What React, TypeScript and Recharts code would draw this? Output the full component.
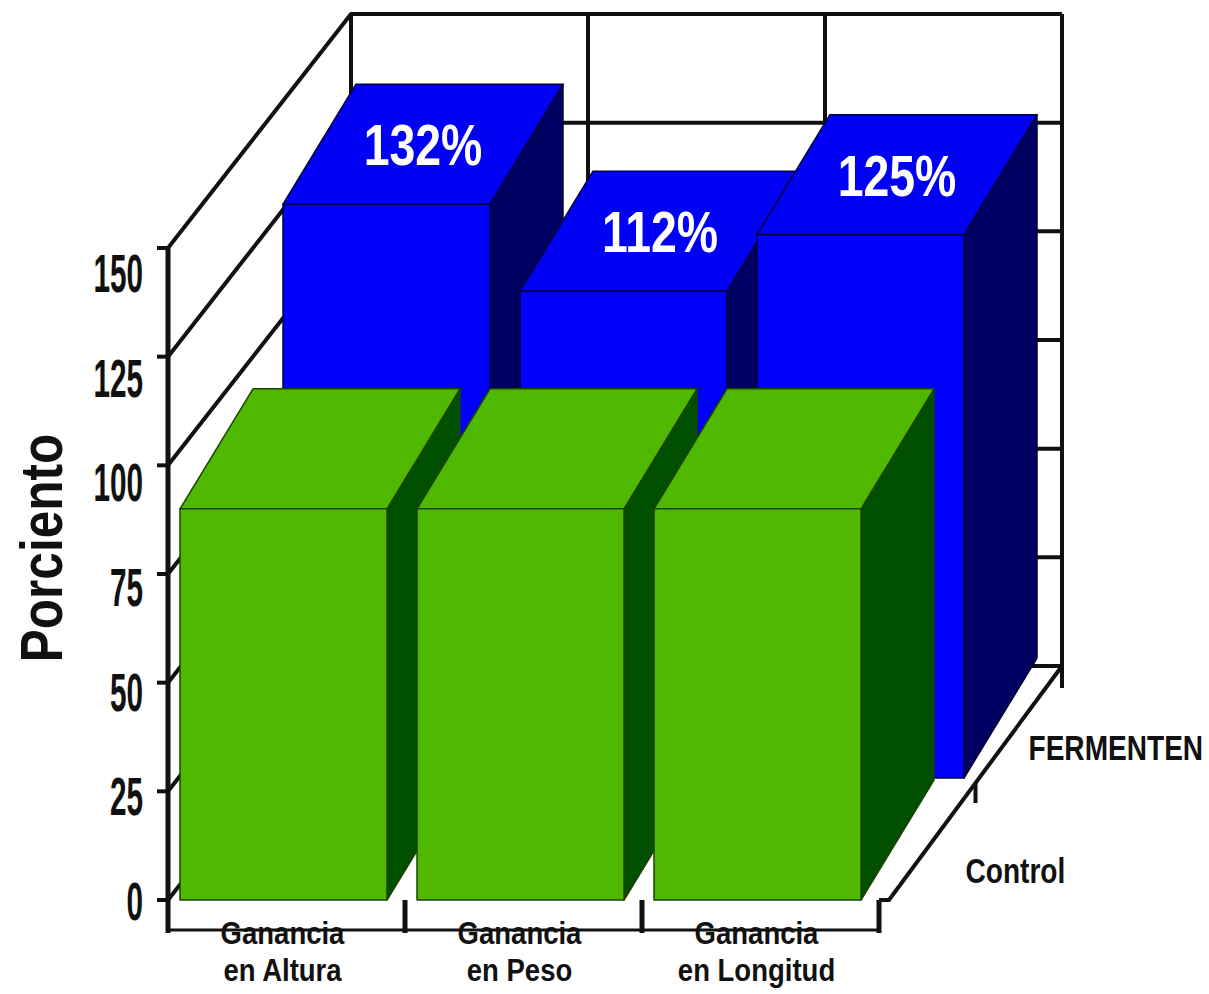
import React from "react";
import { Bar, BarChart, CartesianGrid, XAxis, YAxis } from "recharts";

const CATEGORIES = ["Ganancia en Altura", "Ganancia en Peso", "Ganancia en Longitud"];
const CONTROL = [90, 90, 90];
const FERMENTEN = [132, 112, 125];
const SERIES = ["Control", "FERMENTEN"];
const Y_TICKS = [0, 25, 50, 75, 100, 125, 150];

const data = CATEGORIES.map((cat, i) => ({ cat, control: CONTROL[i], fermenten: FERMENTEN[i] }));

// frame geometry of the oblique 3D box (front plane = plot area)
const W = 1209;
const H = 994;
const PLOT_L = 168;
const PLOT_R = 879;
const PLOT_T = 248;
const PLOT_B = 900;
const BAND = (PLOT_R - PLOT_L) / CATEGORIES.length;
const DEPTH = { x: 183, y: -234 }; // front plane -> back wall
const BAR_DEPTH = { x: 73, y: -120 }; // thickness of a bar
const ROW2 = { x: 103, y: -122 }; // FERMENTEN row sits behind Control
const BAR_W = 207;
const SHIFT = -3;
const INK = "#111";
const FONT = '"Liberation Sans", Arial, sans-serif';

const GREEN = { front: "#4fb800", top: "#4fb800", side: "#005000", edge: "#1d4200" };
const BLUE = { front: "#0000ff", top: "#0000f4", side: "#000062", edge: "#000038" };

function box(x0: number, yt: number, w: number, yb: number, c: typeof GREEN) {
  const x1 = x0 + w;
  const { x: dx, y: dy } = BAR_DEPTH;
  return (
    <g stroke={c.edge} strokeWidth={1.5} strokeLinejoin="round">
      <polygon points={`${x1},${yt} ${x1 + dx},${yt + dy} ${x1 + dx},${yb + dy} ${x1},${yb}`} fill={c.side} />
      <polygon points={`${x0},${yt} ${x0 + dx},${yt + dy} ${x1 + dx},${yt + dy} ${x1},${yt}`} fill={c.top} />
      <rect x={x0} y={yt} width={w} height={yb - yt} fill={c.front} />
    </g>
  );
}

function ControlShape(p: any) {
  return box(p.x + SHIFT, p.y, p.width, p.y + p.height, GREEN);
}

function FermentenShape(p: any) {
  const x0 = p.x + SHIFT + ROW2.x;
  const yt = p.y + ROW2.y;
  const yb = p.y + p.height + ROW2.y;
  const cx = x0 + p.width / 2 + BAR_DEPTH.x / 2;
  const cy = yt + BAR_DEPTH.y / 2;
  return (
    <g>
      {box(x0, yt, p.width, yb, BLUE)}
      <text
        transform={`translate(${cx}, ${cy + 21}) scale(0.8,1)`}
        textAnchor="middle" fontSize={58} fontWeight="bold" fill="#fff" fontFamily={FONT}
      >
        {`${p.payload.fermenten}%`}
      </text>
    </g>
  );
}

function YTick(p: any) {
  const v = p.payload.value;
  return (
    <text
      transform={`translate(143, ${p.y + 20 + v * 0.16}) scale(0.55,1)`}
      textAnchor="end" fontSize={54} fontWeight="bold" fill={INK} fontFamily={FONT}
    >
      {v}
    </text>
  );
}

function XTick(p: any) {
  const i = Math.floor((p.x - PLOT_L + 1) / BAND);
  const left = PLOT_L + i * BAND;
  const words = String(p.payload.value).split(" ");
  const last = i === CATEGORIES.length - 1;
  const txt = { textAnchor: "middle" as const, fontSize: 32, fontWeight: "bold", fill: INK, fontFamily: FONT };
  return (
    <g>
      <line x1={left} y1={PLOT_B} x2={left} y2={PLOT_B + 33} stroke={INK} strokeWidth={5} />
      {last && <line x1={left + BAND} y1={PLOT_B} x2={left + BAND} y2={PLOT_B + 33} stroke={INK} strokeWidth={5} />}
      <text transform={`translate(${p.x - 4}, ${PLOT_B + 44}) scale(0.86,1)`} {...txt}>{words[0]}</text>
      <text transform={`translate(${p.x - 4}, ${PLOT_B + 81}) scale(0.86,1)`} {...txt}>{words.slice(1).join(" ")}</text>
    </g>
  );
}

// side wall diagonal + back wall line for each y tick
function WallLine(p: any) {
  const bx = p.x1 + DEPTH.x;
  const by = p.y1 + DEPTH.y;
  return (
    <polyline
      key={p.key}
      points={`${p.x1},${p.y1} ${bx},${by} ${p.x2 + DEPTH.x},${by}`}
      fill="none" stroke={INK} strokeWidth={4}
    />
  );
}

// back wall category dividers, plus the depth axis on the last one
function WallDivider(p: any) {
  const i = Math.floor((p.x1 - PLOT_L + 1) / BAND);
  const xb = PLOT_L + i * BAND + DEPTH.x;
  const top = p.y1 + DEPTH.y;
  const bot = p.y2 + DEPTH.y;
  const last = i === CATEGORIES.length - 1;
  const xr = PLOT_R + DEPTH.x;
  const fx = PLOT_R + 10;
  const mx = (fx + xr) / 2;
  const my = (p.y2 + bot) / 2;
  const txt = { fontSize: 36, fontWeight: "bold", fill: INK, fontFamily: FONT };
  return (
    <g key={p.key} stroke={INK} strokeWidth={4} fill="none">
      <line x1={xb} y1={top} x2={xb} y2={bot} />
      {last && (
        <g>
          <line x1={xr} y1={top} x2={xr} y2={bot + 22} />
          <polyline points={`${PLOT_R},${p.y2} ${fx},${p.y2} ${xr},${bot}`} />
          <line x1={mx} y1={my} x2={mx} y2={my + 20} />
          <g stroke="none">
            <text transform={`translate(${mx - 10}, ${my + 100}) scale(0.78,1)`} {...txt}>{SERIES[0]}</text>
            <text transform={`translate(${mx + 53}, ${my - 23}) scale(0.78,1)`} {...txt}>{SERIES[1]}</text>
          </g>
        </g>
      )}
    </g>
  );
}

function AxisTitle() {
  return (
    <text
      transform="translate(62, 548) rotate(-90) scale(0.84,1)"
      textAnchor="middle" fontSize={59} fontWeight="bold" fill={INK} fontFamily={FONT}
    >
      Porciento
    </text>
  );
}

export default function App() {
  return (
    <div style={{ position: "absolute", left: 0, top: 0, width: W, height: H, background: "#fff" }}>
      <BarChart
        width={W} height={H} data={data}
        margin={{ top: PLOT_T, right: W - PLOT_R, bottom: 4, left: 8 }}
        barSize={BAR_W}
      >
        <CartesianGrid xAxisId="front" horizontal={WallLine} vertical={WallDivider} />
        <XAxis
          xAxisId="front" dataKey="cat" height={90} interval={0}
          axisLine={{ stroke: INK, strokeWidth: 3 }} tickLine={false} tick={XTick}
        />
        <XAxis xAxisId="back" dataKey="cat" hide />
        <YAxis
          type="number" domain={[0, 150]} ticks={Y_TICKS} interval={0} width={160}
          axisLine={{ stroke: INK, strokeWidth: 5 }} tickLine={{ stroke: INK, strokeWidth: 4 }}
          tickSize={11} tick={YTick} label={<AxisTitle />}
        />
        <Bar xAxisId="back" dataKey="fermenten" name={SERIES[1]} shape={FermentenShape} isAnimationActive={false} />
        <Bar xAxisId="front" dataKey="control" name={SERIES[0]} shape={ControlShape} isAnimationActive={false} />
      </BarChart>
    </div>
  );
}
